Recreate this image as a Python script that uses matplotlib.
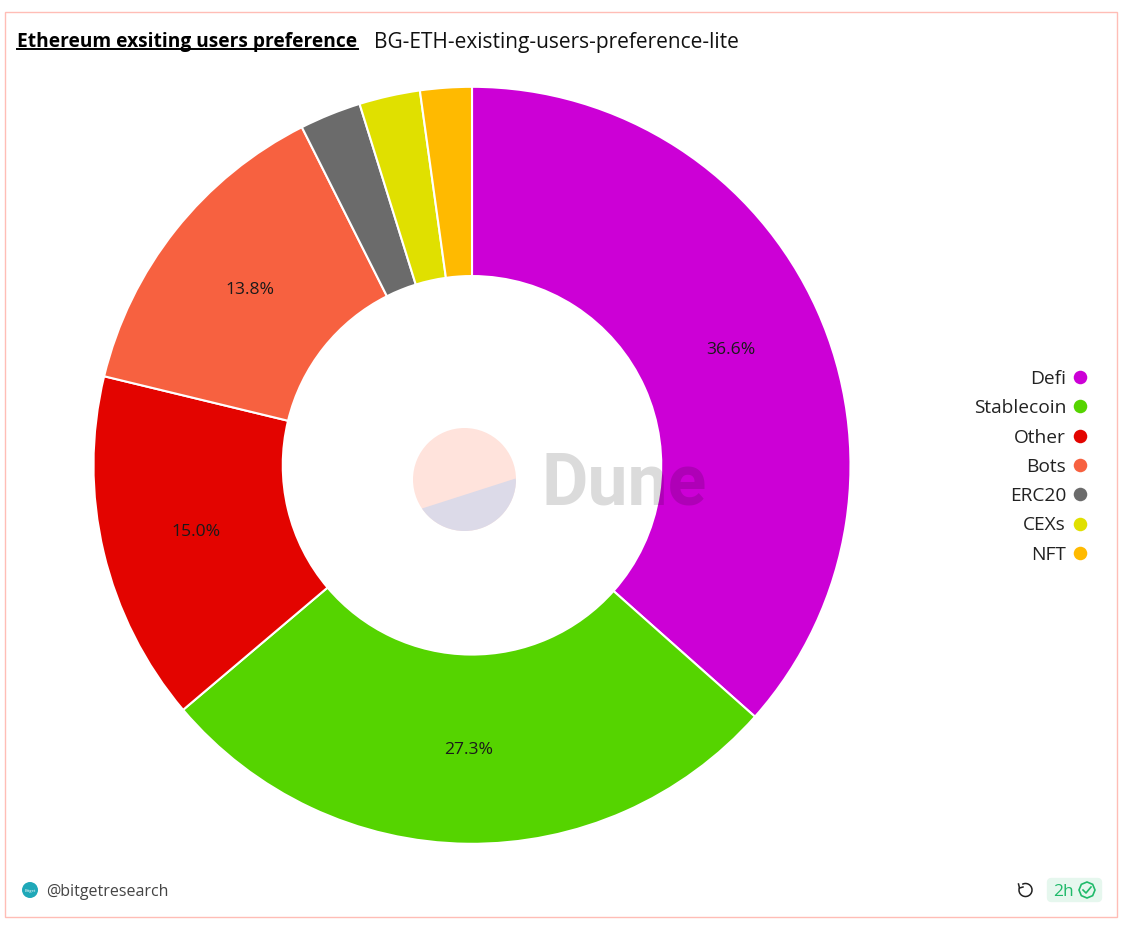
import matplotlib
matplotlib.use("Agg")
import matplotlib.pyplot as plt
from matplotlib.patches import Circle, Polygon, Rectangle, FancyBboxPatch, Arc, RegularPolygon

plt.rcParams['font.family'] = ['Open Sans', 'DejaVu Sans']

# data
categories = ["Defi", "Stablecoin", "Other", "Bots", "ERC20", "CEXs", "NFT"]
values = [36.56, 27.26, 14.96, 13.8, 2.62, 2.6, 2.2]
colors = ["#cc00d6", "#55d400", "#e30400", "#f76140", "#6b6b6b", "#e0e000", "#ffba00"]
title = "Ethereum exsiting users preference"
subtitle = "BG-ETH-existing-users-preference-lite"
W, H = 1128, 928

fig = plt.figure(figsize=(W / 100, H / 100), dpi=100)

# the donut, center 472,466 and radius 378 px
cx, cy, r = 472, 466.3, 378.5
ax = fig.add_axes([(cx - r) / W, 1 - (cy + r) / H, 2 * r / W, 2 * r / H])
wedges, texts, pcts = ax.pie(
    values, colors=colors, startangle=90, counterclock=False, radius=1,
    autopct=lambda p: "%.1f%%" % p if p > 5 else "", pctdistance=0.75,
    wedgeprops=dict(width=0.5, edgecolor="white", linewidth=1.5),
    textprops=dict(fontsize=12.6, color="#1a1a1a"),
)
ax.set_xlim(-1, 1)
ax.set_ylim(-1, 1)
ax.set_aspect("equal")
ax.axis("off")

# overlay in pixel coords (y flipped by hand)
ov = fig.add_axes([0, 0, 1, 1], facecolor="none")
ov.set_xlim(0, W)
ov.set_ylim(0, H)
ov.axis("off")

def py(y):
    return H - y

# card border
ov.add_patch(Rectangle((5, py(918)), 1112, 905, fill=False, edgecolor="#ffbdb6", linewidth=1))

# header
ov.text(17, py(42.5), title, fontsize=13.8, fontweight="bold", color="black", va="center")
ov.plot([17, 358], [py(50), py(50)], color="black", linewidth=1.4)
ov.text(374, py(42.5), subtitle, fontsize=15, color="#111111", va="center")

# watermark, a disc cut by a chord that misses the center
disc = Circle((464.5, py(480.5)), 51.5, facecolor="#ffe3dc", edgecolor="none")
ov.add_patch(disc)
low = Polygon([(422, py(509.5)), (515.5, py(479.5)), (530, py(540)), (410, py(540))],
              facecolor="#dcdae8", edgecolor="none")
ov.add_patch(low)
low.set_clip_path(disc)
ov.text(542, py(505), "Dune", fontsize=51.5, fontweight="bold", family="Roboto",
        color="black", alpha=0.14, va="baseline", ha="left")

# legend
for i, name in enumerate(categories):
    y = 378 + i * 29.3
    ov.text(1066, py(y + 1), name, fontsize=13.8, color="#222222", ha="right", va="center")
    ov.scatter([1080], [py(y)], s=95, color=colors[i], linewidths=0)

# footer
ov.add_patch(Circle((30, py(891)), 8, facecolor="#1fa8b8", edgecolor="none"))
ov.text(30, py(891), "Bitget", fontsize=3, color="white", ha="center", va="center")
ov.text(46, py(892.5), "@bitgetresearch", fontsize=11.5, color="#444444", va="center")

ov.add_patch(Arc((1025.5, py(891)), 13, 13, theta1=-200, theta2=120, color="#222222", linewidth=1.1))
ov.plot([1018.5, 1019.5, 1023], [py(885), py(889), py(888)], color="#222222", linewidth=1.1)

ov.add_patch(FancyBboxPatch((1051, py(899)), 47, 16, boxstyle="round,pad=0,rounding_size=0",
                            facecolor="#e6f7ee", edgecolor="#e6f7ee", linewidth=6, joinstyle="round"))
ov.text(1053, py(892.5), "2h", fontsize=12.5, color="#1fba6a", va="center")
ov.add_patch(RegularPolygon((1087, py(891)), 8, radius=8, fill=False, edgecolor="#1fba6a", linewidth=1.2))
ov.plot([1083, 1086, 1091], [py(891), py(894), py(888)], color="#1fba6a", linewidth=1.2)

fig.savefig("out.png", dpi=100)
